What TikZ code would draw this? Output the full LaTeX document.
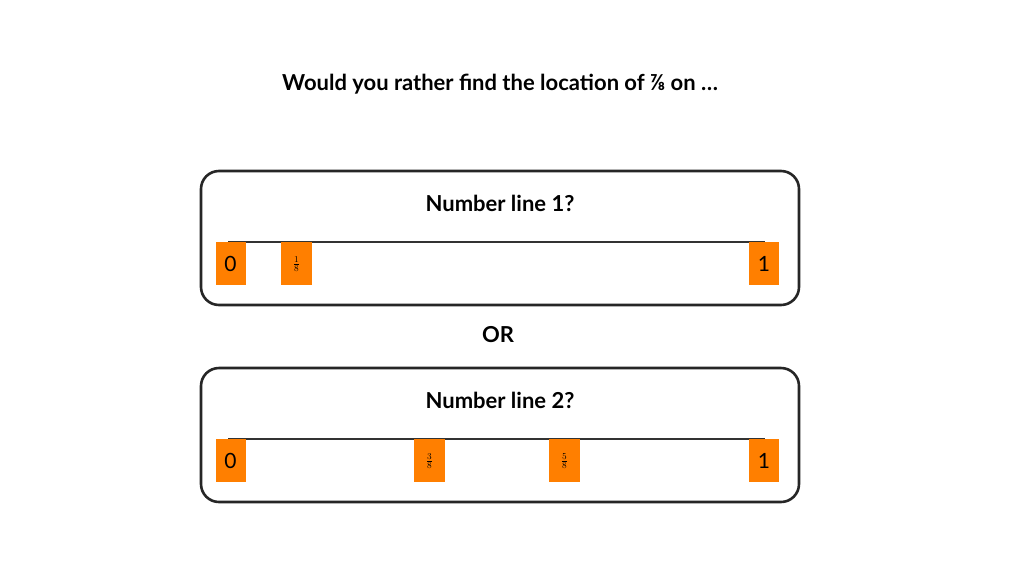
\documentclass[tikz,border=0pt]{standalone}
\usepackage{fontspec}
\setmainfont{Lato}
\definecolor{org}{HTML}{FF7F00}
\begin{document}
\begin{tikzpicture}[x=1pt,y=-1pt,
  frame/.style={draw=black!85,line width=2.6pt,rounded corners=18pt},
  lbl/.style={fill=org,anchor=north,minimum width=30pt,minimum height=43pt,inner sep=0pt,font=\fontsize{21}{21}\selectfont},
  frac/.style={fill=org,anchor=north,minimum width=31pt,minimum height=43pt,inner sep=0pt,font=\fontsize{13}{13}\selectfont},
  ttl/.style={font=\bfseries\fontsize{22}{24}\selectfont}]
\useasboundingbox (0,0) rectangle (1024,576);
\node[ttl] (title) at (500,84) {Would you rather find the location of ⅞ on …};
\draw[frame] (201,171) rectangle (799,305);
\draw[frame] (201,368) rectangle (799,502);
\node[ttl] (t1) at (500,203) {Number line 1?};
\node[ttl] (t2) at (500,400) {Number line 2?};
\node[ttl] (or) at (498,335) {OR};
\coordinate (a1) at (228,242); \coordinate (b1) at (765,242);
\coordinate (a2) at (228,439); \coordinate (b2) at (765,439);
\draw[black!80,line width=1.2pt] (a1) -- (b1);
\draw[black!80,line width=1.2pt] (a2) -- (b2);
\node[lbl] (z1) at (230.5,242) {0};
\node[frac] (e1) at (296.5,242) {$\frac{1}{8}$};
\node[lbl] (o1) at (764,242) {1};
\node[lbl] (z2) at (230.5,439) {0};
\node[frac] (e3) at (429.5,439) {$\frac{3}{8}$};
\node[frac] (e5) at (564.5,439) {$\frac{5}{8}$};
\node[lbl] (o2) at (764,439) {1};
\end{tikzpicture}
\end{document}
